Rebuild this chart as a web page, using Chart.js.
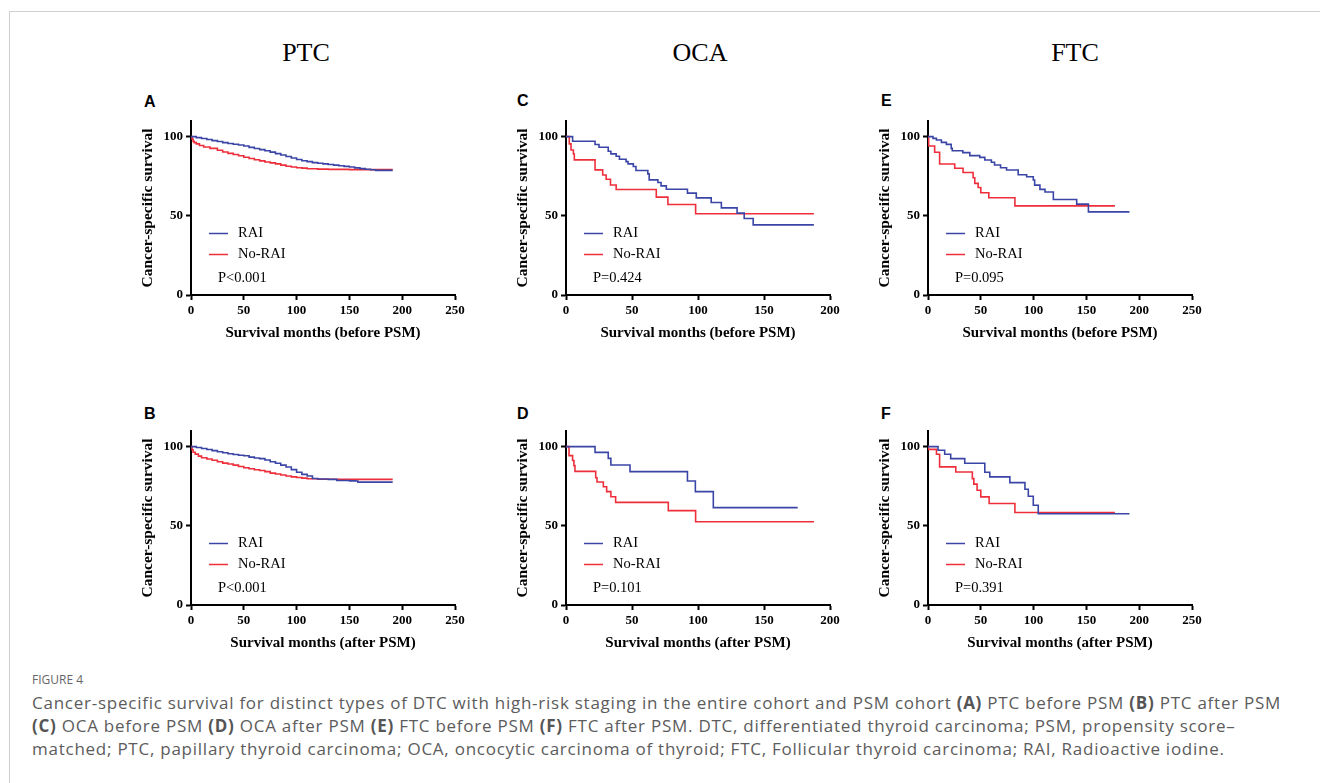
<!DOCTYPE html>
<html>
<head>
<meta charset="utf-8">
<script src="https://cdn.jsdelivr.net/npm/chart.js@4.4.0/dist/chart.umd.min.js"></script>
<style>
  body { margin: 0; background: #fff; }
  #page { position: relative; width: 1320px; height: 783px; overflow: hidden; background: #fff; }
  .frame { position: absolute; left: 9px; top: 11px; width: 1400px; height: 900px; border-left: 1px solid #cfcfcf; border-top: 1px solid #cfcfcf; }
  .col { position: absolute; top: 38px; width: 200px; margin-left: -100px; text-align: center; font: 26px "Liberation Serif", serif; color: #000; }
  .tag { position: absolute; font: bold 16px "Liberation Sans", Arial, sans-serif; color: #000; }
  canvas { position: absolute; }
  .fig { position: absolute; left: 32px; top: 671px; font: 12px "Open Sans", sans-serif; color: #666; }
  .cap { position: absolute; left: 32px; top: 691px; font: 17px/23px "Open Sans", sans-serif; letter-spacing: 0.75px; color: #5c5c5c; white-space: nowrap; }
  .cap b { color: #555; }
</style>
</head>
<body>
<div id="page">
  <div class="frame"></div>
  <div class="col" style="left:306px">PTC</div>
  <div class="col" style="left:700px">OCA</div>
  <div class="col" style="left:1075px">FTC</div>

  <div class="tag" style="left:144px;top:93px">A</div>
  <div class="tag" style="left:517px;top:92px">C</div>
  <div class="tag" style="left:881px;top:92px">E</div>
  <div class="tag" style="left:144px;top:405px">B</div>
  <div class="tag" style="left:517px;top:405px">D</div>
  <div class="tag" style="left:881px;top:405px">F</div>

  <canvas id="chartA" width="344" height="235" style="left:125px;top:110px"></canvas>
  <canvas id="chartC" width="344" height="235" style="left:500px;top:110px"></canvas>
  <canvas id="chartE" width="344" height="235" style="left:862px;top:110px"></canvas>
  <canvas id="chartB" width="344" height="235" style="left:125px;top:420px"></canvas>
  <canvas id="chartD" width="344" height="235" style="left:500px;top:420px"></canvas>
  <canvas id="chartF" width="344" height="235" style="left:862px;top:420px"></canvas>

  <div class="fig">FIGURE 4</div>
  <div class="cap">Cancer-specific survival for distinct types of DTC with high-risk staging in the entire cohort and PSM cohort <b>(A)</b> PTC before PSM <b>(B)</b> PTC after PSM<br><b>(C)</b> OCA before PSM <b>(D)</b> OCA after PSM <b>(E)</b> FTC before PSM <b>(F)</b> FTC after PSM. DTC, differentiated thyroid carcinoma; PSM, propensity score–<br>matched; PTC, papillary thyroid carcinoma; OCA, oncocytic carcinoma of thyroid; FTC, Follicular thyroid carcinoma; RAI, Radioactive iodine.</div>
</div>

<script>
// survival curves - [month, survival %]
var seriesNames = ['RAI', 'No-RAI'];

var ptcBeforeRai = [[0,100],[5,99.4],[10,98.8],[15,98.2],[20,97.5],[25,96.9],[30,96.2],[35,95.7],[40,95.2],[45,94.7],[50,94.1],[55,93.2],[60,92.5],[65,91.8],[70,91.1],[75,90.2],[80,89.3],[85,88.4],[90,87.5],[95,86.5],[100,85.6],[105,84.8],[110,84.2],[115,83.6],[120,83.2],[125,82.8],[130,82.4],[135,82],[140,81.6],[145,81.2],[150,80.8],[155,80.3],[160,79.8],[165,79.4],[170,79.1],[175,78.7],[191,78.7]];
var ptcBeforeNoRai = [[0,100],[1,98.5],[2,97],[3,96.2],[5,95.4],[8,94.4],[12,93.5],[18,92.6],[25,91.4],[30,90.3],[35,89.4],[40,88.7],[45,87.9],[50,87],[55,86.2],[60,85.4],[65,84.7],[70,84],[75,83.4],[80,82.8],[85,82],[90,81.3],[95,80.8],[100,80.4],[105,80.1],[110,79.7],[120,79.5],[130,79.3],[150,79.2],[191,79.2]];

var ptcAfterRai = [[0,100],[5,99.5],[10,98.8],[15,98.2],[20,97.5],[25,96.8],[30,96.1],[35,95.5],[40,95],[45,94.6],[50,94.2],[55,93.4],[60,92.8],[65,92.4],[70,91.6],[75,90.5],[80,89.5],[85,88.3],[90,87.1],[95,85.5],[100,83.8],[105,82.5],[110,81.5],[115,79.9],[120,79.6],[130,79.3],[138,78.6],[150,78.4],[156,78.3],[158,77.6],[191,77.6]];
var ptcAfterNoRai = [[0,100],[1,98],[2,96.5],[4,95.3],[7,94],[10,93],[15,92.2],[20,91.4],[25,90.5],[30,89.6],[35,89],[40,88.3],[45,87.5],[50,86.7],[55,86],[60,85.4],[65,84.9],[70,84.2],[75,83.3],[80,82.7],[85,82.1],[90,81.5],[95,80.9],[100,80.5],[105,80.1],[110,79.7],[120,79.4],[140,79.3],[191,79.3]];

var ocaBeforeRai = [[0,100],[5,97.1],[22,95],[25,93.3],[32,90.8],[34,89.1],[38,87.6],[40.5,85.7],[45.5,84.2],[47,82.8],[51,81.1],[53,78.6],[62,76.5],[63,72.7],[69.6,71],[72,68.9],[76,66.8],[92,64.3],[98.7,61.3],[110,58.4],[117.7,55],[129.6,51.7],[135,48.3],[141.8,44.3],[187.8,44.3]];
var ocaBeforeNoRai = [[0,100],[2.5,95.4],[3.8,91.6],[5.6,89],[6.3,85.3],[22,79],[27.8,75.8],[30.4,73.1],[33.7,69.5],[38,66.6],[68.4,61.8],[77.2,57.1],[98.2,51.3],[187.8,51.3]];

var ocaAfterRai = [[0,100],[22,96.4],[32,92.6],[34,88.4],[48.5,84.2],[92,78.3],[98,71.6],[111.6,61.5],[175.5,61.5]];
var ocaAfterNoRai = [[0,100],[2.3,94.3],[5,91.2],[6,88],[6.8,84.4],[22.5,80.4],[23.5,77.7],[28.3,74.7],[30.8,71.6],[34,68.4],[37.6,64.8],[77.5,59.6],[98.2,52.6],[187.9,52.6]];

var ftcBeforeRai = [[0,100],[4.7,98.9],[8,97.9],[12.7,96.4],[17.4,95.1],[22,92.6],[23,91.1],[33,89.9],[39.6,88],[49,86.9],[53.8,85.2],[60,83.8],[63,82.1],[68.7,80.4],[74.4,78.9],[85.4,75.9],[93.4,74.7],[99.7,72.6],[101,69.4],[106,66.7],[110.8,65],[118.7,60.3],[140.8,57.4],[151.9,52.5],[190.8,52.5]];
var ftcBeforeNoRai = [[0,100],[0.6,94.1],[6.3,90.1],[11,82.7],[25.3,80],[33.2,77.4],[42.7,74],[44.3,70.5],[47.5,67.9],[50,64.6],[57.6,61.4],[82.3,56.3],[177,56.3]];

var ftcAfterRai = [[0,100],[9.5,97.7],[15.8,95.2],[21.5,92.4],[34.8,89.5],[53.8,83.8],[58.5,80.9],[77.5,77.3],[91.8,73.1],[95,68.7],[99.7,63],[104.4,57.6],[190.8,57.6]];
var ftcAfterNoRai = [[0,100],[0.3,98.3],[8,95.2],[11,87.2],[26.3,84],[42,79.8],[43.4,76.3],[46.5,72.5],[50,68.3],[57.9,64.1],[82.3,58.4],[177,58.4]];

var pValues = { A: 'P<0.001', B: 'P<0.001', C: 'P=0.424', D: 'P=0.101', E: 'P=0.095', F: 'P=0.391' };
var yTicks = [0, 50, 100];

var blue = '#3a45a6';
var red = '#ee2f3b';
var serif = '"Liberation Serif", "Times New Roman", serif';

// legend + p value drawn inside the plot area
var kmLegend = {
    id: 'kmLegend',
    afterDatasetsDraw: function(chart, args, opts) {
        var ctx = chart.ctx;
        var a = chart.chartArea;
        ctx.save();
        ctx.font = '14.5px ' + serif;
        ctx.textBaseline = 'middle';
        ctx.fillStyle = '#000';
        chart.data.datasets.forEach(function(ds, i) {
            var y = Math.round(a.top + 112.5 + i * 21) + 0.5;
            ctx.strokeStyle = ds.borderColor;
            ctx.lineWidth = 1.5;
            ctx.beginPath();
            ctx.moveTo(a.left + 18, y);
            ctx.lineTo(a.left + 37, y);
            ctx.stroke();
            ctx.fillText(ds.label, a.left + 47, y);
        });
        ctx.fillText(opts.text, a.left + 27, a.top + 157);
        ctx.restore();
    }
};

function toXY(rows) {
    return rows.map(function(r) { return { x: r[0], y: r[1] }; });
}

function makeChart(id, rai, noRai, xMax, xTitle, pText) {
    var tickFont = { family: serif, size: 13, weight: 'bold' };
    return new Chart(document.getElementById(id), {
        type: 'line',
        data: {
            datasets: [
                { label: seriesNames[0], data: toXY(rai), borderColor: blue, backgroundColor: blue },
                { label: seriesNames[1], data: toXY(noRai), borderColor: red, backgroundColor: red }
            ]
        },
        options: {
            responsive: false,
            animation: false,
            layout: { padding: { top: 10, right: 14, left: 0, bottom: 0 } },
            elements: {
                point: { radius: 0 },
                line: { borderWidth: 1.6, stepped: true, tension: 0 }
            },
            plugins: {
                legend: { display: false },
                tooltip: { enabled: false },
                kmLegend: { text: pText }
            },
            scales: {
                x: {
                    type: 'linear',
                    min: 0,
                    max: xMax,
                    ticks: { stepSize: 50, font: tickFont, color: '#000', padding: 3, maxRotation: 0 },
                    grid: { drawOnChartArea: false, drawTicks: true, tickLength: 5, tickColor: '#000', tickWidth: 2 },
                    border: { color: '#000', width: 2 },
                    title: { display: true, text: xTitle, font: { family: serif, size: 15, weight: 'bold' }, color: '#000', padding: { top: 0, bottom: 3 } },
                    afterFit: function(s) { s.height = 50; }
                },
                y: {
                    min: 0,
                    max: 110,
                    afterBuildTicks: function(s) { s.ticks = yTicks.map(function(v) { return { value: v }; }); },
                    ticks: { font: tickFont, color: '#000', padding: 3 },
                    grid: { drawOnChartArea: false, drawTicks: true, tickLength: 5, tickColor: '#000', tickWidth: 2 },
                    border: { color: '#000', width: 2 },
                    title: { display: true, text: 'Cancer-specific survival', font: { family: serif, size: 15.5, weight: 'bold' }, color: '#000', padding: { top: 14, bottom: 0 } },
                    afterFit: function(s) { s.width = 66; }
                }
            }
        },
        plugins: [kmLegend]
    });
}

makeChart('chartA', ptcBeforeRai, ptcBeforeNoRai, 250, 'Survival months (before PSM)', pValues.A);
makeChart('chartB', ptcAfterRai, ptcAfterNoRai, 250, 'Survival months (after PSM)', pValues.B);
makeChart('chartC', ocaBeforeRai, ocaBeforeNoRai, 200, 'Survival months (before PSM)', pValues.C);
makeChart('chartD', ocaAfterRai, ocaAfterNoRai, 200, 'Survival months (after PSM)', pValues.D);
makeChart('chartE', ftcBeforeRai, ftcBeforeNoRai, 250, 'Survival months (before PSM)', pValues.E);
makeChart('chartF', ftcAfterRai, ftcAfterNoRai, 250, 'Survival months (after PSM)', pValues.F);
</script>
</body>
</html>
